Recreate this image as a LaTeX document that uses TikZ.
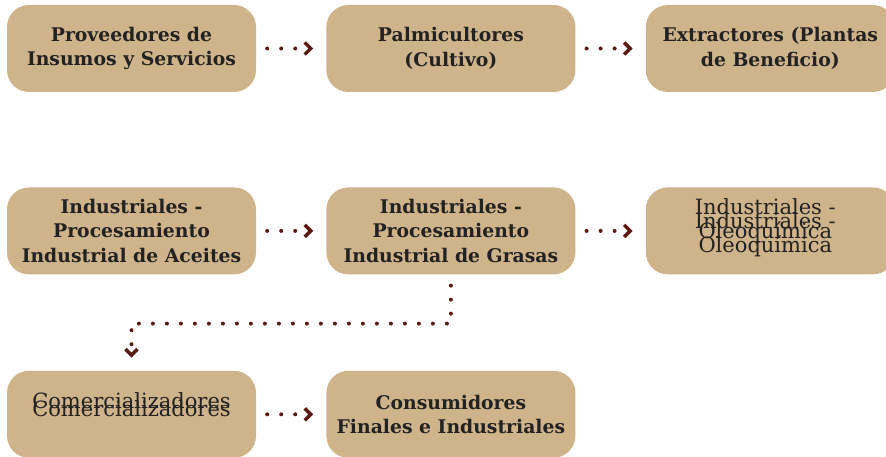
\documentclass[tikz,border=0pt]{standalone}
\usepackage{fontspec}
\setmainfont{DejaVu Serif}
\usetikzlibrary{arrows.meta,positioning}
\definecolor{tan}{HTML}{CFB38A}
\definecolor{ink}{HTML}{222222}
\definecolor{wine}{HTML}{5A1A12}

\begin{document}
\begin{tikzpicture}[x=1pt,y=-1pt,
  box/.style={fill=tan,rounded corners=22pt,minimum width=249pt,minimum height=87pt,
    inner sep=0pt,text=ink,align=center,font=\bfseries\fontsize{18.8}{24.5}\selectfont},
  plain/.style={text=ink,align=center,inner sep=0pt,font=\fontsize{21}{24}\selectfont},
  flow/.style={wine,line width=4pt,line cap=round,dash pattern=on 0pt off 14pt,
    -{Straight Barb[length=6pt,width=12pt,line width=3.5pt]},
    shorten <=11pt,shorten >=13pt}]
\useasboundingbox (0,0) rectangle (886,457);

\node[box] (prov) at (131.5,48.5) {Proveedores de\\Insumos y Servicios};
\node[box,right=70pt of prov] (palm) {Palmicultores\\(Cultivo)};
\node[box,right=70pt of palm] (extr) {Extractores (Plantas\\de Beneficio)};

\node[box,below=95pt of prov] (aceites) {Industriales -\\Procesamiento\\Industrial de Aceites};
\node[box,right=70pt of aceites] (grasas) {Industriales -\\Procesamiento\\Industrial de Grasas};
\node[box,right=70pt of grasas] (oleo) {};
\node[plain] (oleoA) at ([xshift=-5pt,yshift=10pt]oleo.center) {Industriales -\\Oleoquímica};
\node[plain] (oleoB) at ([xshift=-5pt,yshift=-4pt]oleo.center) {Industriales -\\Oleoquímica};

\node[box,below=96pt of aceites] (comer) {};
\node[plain] (comerA) at ([yshift=13.3pt]comer.center) {Comercializadores};
\node[plain] (comerB) at ([yshift=5.3pt]comer.center) {Comercializadores};
\node[box,right=70pt of comer] (cons) {Consumidores\\Finales e Industriales};

\draw[flow] (prov) -- (palm);
\draw[flow] (palm) -- (extr);
\draw[flow] (aceites) -- (grasas);
\draw[flow] (grasas) -- (oleo);
\draw[flow] (grasas.south) |- ([yshift=47pt]comer.north) -- (comer.north);
\draw[flow] (comer) -- (cons);
\end{tikzpicture}
\end{document}
